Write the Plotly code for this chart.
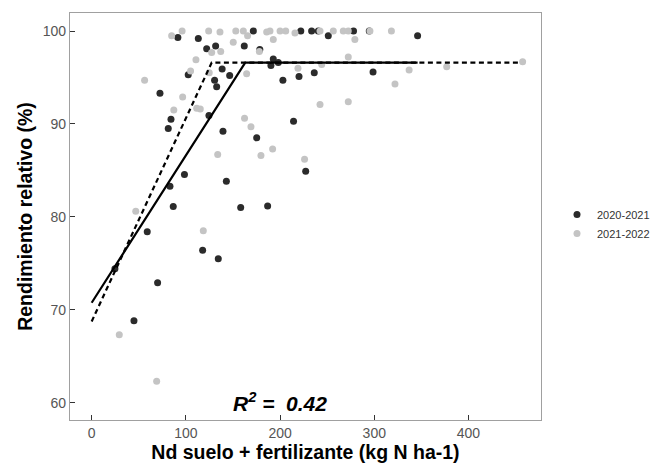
import plotly.graph_objects as go

# Relative yield vs. available N (soil + fertilizer), two seasons
season_a = "2020-2021"
season_b = "2021-2022"

n_a = [72.5, 84.2, 81.3, 91.5, 113.2, 122.1, 131.6, 102.5, 130.5, 132.7, 138.5, 146.5,
       124.5, 139.4, 162.0, 171.6, 178.5, 190.3, 192.8, 198.1, 203.0, 220.1, 222.0, 233.5,
       240.6, 251.2, 278.0, 294.7, 346.0, 236.3, 298.7, 175.2, 214.3, 227.2, 98.5, 143.0,
       83.1, 86.6, 158.2, 186.8, 59.0, 117.8, 134.4, 70.0, 44.9, 24.7]
ry_a = [93.3, 90.5, 89.5, 99.3, 99.2, 98.1, 98.4, 95.3, 94.7, 94.0, 95.9, 95.2,
        90.9, 89.2, 98.4, 100.0, 98.0, 96.3, 97.0, 96.6, 94.7, 95.1, 100.0, 100.0,
        100.0, 99.5, 100.0, 100.0, 99.5, 95.5, 95.6, 88.5, 90.3, 84.9, 84.55, 83.84,
        83.3, 81.1, 81.0, 81.16, 78.4, 76.4, 75.5, 72.9, 68.8, 74.4]

n_b = [56.2, 84.9, 96.0, 110.7, 105.0, 96.6, 87.2, 111.5, 115.3, 124.2, 136.2, 127.4,
       137.0, 124.8, 150.3, 153.0, 161.0, 165.5, 164.5, 178.0, 185.8, 189.3, 192.8, 200.0,
       206.0, 215.8, 219.0, 162.3, 169.1, 133.8, 179.7, 192.1, 226.0, 242.4, 256.5, 267.1,
       272.4, 295.4, 318.2, 279.4, 272.4, 244.2, 337.0, 376.9, 457.5, 322.0, 242.4, 272.4,
       46.8, 118.5, 29.3, 69.0]
ry_b = [94.7, 99.5, 100.0, 96.9, 95.7, 92.9, 91.5, 91.7, 91.6, 100.0, 99.9, 97.7,
        97.8, 95.5, 98.8, 100.0, 100.0, 99.5, 95.4, 97.8, 99.9, 100.0, 99.1, 100.0,
        100.0, 99.8, 96.0, 90.6, 89.7, 86.7, 86.6, 87.3, 86.2, 100.0, 100.0, 100.0,
        100.0, 100.0, 100.0, 99.1, 97.2, 96.4, 95.8, 96.15, 96.7, 94.3, 92.1, 92.4,
        80.6, 78.5, 67.3, 62.3]

# Linear-plateau fits (intercept, breakpoint, plateau)
fit_a_x = [0, 163.0, 346.0]
fit_a_y = [70.75, 96.6, 96.6]
fit_b_x = [0, 127.4, 454.7]
fit_b_y = [68.74, 96.6, 96.6]

r2_label = "0.42"

dark = "#2b2b2b"
light = "#c4c4c4"
font_family = "Liberation Sans, Arial, Helvetica, sans-serif"

fig = go.Figure()
fig.add_trace(go.Scatter(x=n_a, y=ry_a, mode="markers", name=season_a,
                         marker=dict(color=dark, size=7, line=dict(width=0))))
fig.add_trace(go.Scatter(x=n_b, y=ry_b, mode="markers", name=season_b,
                         marker=dict(color=light, size=7, line=dict(width=0))))
fig.add_trace(go.Scatter(x=fit_a_x, y=fit_a_y, mode="lines", showlegend=False,
                         line=dict(color="black", width=2.2)))
fig.add_trace(go.Scatter(x=fit_b_x, y=fit_b_y, mode="lines", showlegend=False,
                         line=dict(color="black", width=2.2, dash="5px,3.5px")))

fig.add_annotation(x=200, y=60.05, xref="x", yref="y", showarrow=False,
                   text=f"<b><i>R<sup>2</sup> =  {r2_label}</i></b>",
                   font=dict(family=font_family, size=21, color="black"),
                   xanchor="center", yanchor="middle")

axis_common = dict(showline=True, linecolor="#a0a0a0", linewidth=1.2, mirror=True,
                   showgrid=False, zeroline=False, ticks="inside", ticklen=5,
                   tickcolor="#333333", tickwidth=1,
                   tickfont=dict(family=font_family, size=14, color="#555555"))

fig.update_xaxes(range=[-23, 477], tickvals=[0, 100, 200, 300, 400],
                 title=dict(text="<b>Nd suelo + fertilizante (kg N ha-1)</b>",
                            font=dict(family=font_family, size=19.5, color="black"),
                            standoff=0),
                 **axis_common)
fig.update_yaxes(range=[58.13, 101.94], tickvals=[60, 70, 80, 90, 100],
                 title=dict(text="<b>Rendimiento relativo (%)</b>",
                            font=dict(family=font_family, size=19.5, color="black"),
                            standoff=4),
                 **axis_common)

fig.update_layout(
    width=664, height=467,
    margin=dict(l=70, r=123, t=13, b=40),
    paper_bgcolor="white", plot_bgcolor="white",
    font=dict(family=font_family),
    legend=dict(x=557 / 664, xref="container", xanchor="left",
                y=1 - 200 / 467, yref="container", yanchor="top",
                font=dict(family=font_family, size=11, color="#333333"),
                bgcolor="rgba(0,0,0,0)"),
)

fig.write_html("out.html")
